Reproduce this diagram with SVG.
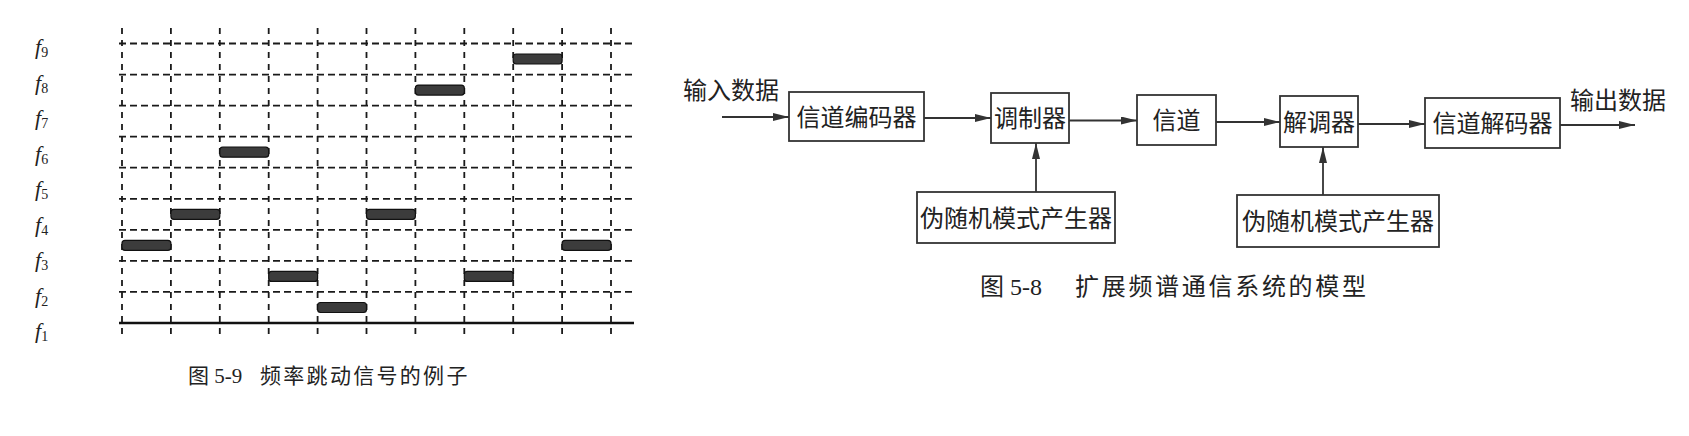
<svg xmlns="http://www.w3.org/2000/svg" width="1689" height="436" viewBox="0 0 1689 436">
<defs>
<style>
.bg{fill:#ffffff}
.hg{stroke:#1a1a1a;stroke-width:1.8;stroke-dasharray:7 4;fill:none}
.vg{stroke:#1a1a1a;stroke-width:1.8;stroke-dasharray:6 6;fill:none}
.base{stroke:#111;stroke-width:2.6;fill:none}
.bar{fill:#3c3c3c;stroke:#111;stroke-width:1.2}
.fl{font-family:"Liberation Serif","DejaVu Serif",serif;font-style:italic;font-size:22px;fill:#222}
.fs{font-size:14px;font-style:normal}
.cap{font-family:"Liberation Serif","Noto Sans CJK SC",serif;fill:#222}
.box{fill:#fff;stroke:#333;stroke-width:1.8}
.lbl{font-family:"Noto Sans CJK SC","Noto Sans CJK JP",sans-serif;font-size:24px;fill:#222;text-anchor:middle}
.txt{font-family:"Noto Sans CJK SC","Noto Sans CJK JP",sans-serif;font-size:24px;fill:#222}
.ln{stroke:#333;stroke-width:1.8;fill:none;marker-end:url(#ah)}
</style>
<marker id="ah" viewBox="0 0 16 8" refX="16" refY="4" markerWidth="16" markerHeight="8" markerUnits="userSpaceOnUse" orient="auto">
<path d="M0,0 L16,4 L0,8 Z" fill="#333"/>
</marker>
</defs>
<rect class="bg" x="0" y="0" width="1689" height="436"/>

<g id="hopping-chart">
<g id="grid-h">
<line class="hg" x1="119" y1="43.5" x2="634" y2="43.5"/>
<line class="hg" x1="119" y1="74.6" x2="634" y2="74.6"/>
<line class="hg" x1="119" y1="105.6" x2="634" y2="105.6"/>
<line class="hg" x1="119" y1="136.7" x2="634" y2="136.7"/>
<line class="hg" x1="119" y1="167.7" x2="634" y2="167.7"/>
<line class="hg" x1="119" y1="198.8" x2="634" y2="198.8"/>
<line class="hg" x1="119" y1="229.8" x2="634" y2="229.8"/>
<line class="hg" x1="119" y1="260.9" x2="634" y2="260.9"/>
<line class="hg" x1="119" y1="291.9" x2="634" y2="291.9"/>
<line class="base" x1="119" y1="323" x2="634" y2="323"/>
</g>
<g id="grid-v">
<line class="vg" x1="122" y1="28" x2="122" y2="337"/>
<line class="vg" x1="170.9" y1="28" x2="170.9" y2="337"/>
<line class="vg" x1="219.8" y1="28" x2="219.8" y2="337"/>
<line class="vg" x1="268.7" y1="28" x2="268.7" y2="337"/>
<line class="vg" x1="317.6" y1="28" x2="317.6" y2="337"/>
<line class="vg" x1="366.5" y1="28" x2="366.5" y2="337"/>
<line class="vg" x1="415.4" y1="28" x2="415.4" y2="337"/>
<line class="vg" x1="464.3" y1="28" x2="464.3" y2="337"/>
<line class="vg" x1="513.2" y1="28" x2="513.2" y2="337"/>
<line class="vg" x1="562.1" y1="28" x2="562.1" y2="337"/>
<line class="vg" x1="611" y1="28" x2="611" y2="337"/>
</g>
<g id="bars">
<rect class="bar" x="122" y="240.3" width="48.9" height="10" rx="3"/>
<rect class="bar" x="170.9" y="209.3" width="48.9" height="10" rx="3"/>
<rect class="bar" x="219.8" y="147.2" width="48.9" height="10" rx="3"/>
<rect class="bar" x="268.7" y="271.4" width="48.9" height="10" rx="3"/>
<rect class="bar" x="317.6" y="302.5" width="48.9" height="10" rx="3"/>
<rect class="bar" x="366.5" y="209.3" width="48.9" height="10" rx="3"/>
<rect class="bar" x="415.4" y="85.1" width="48.9" height="10" rx="3"/>
<rect class="bar" x="464.3" y="271.4" width="48.9" height="10" rx="3"/>
<rect class="bar" x="513.2" y="54" width="48.9" height="10" rx="3"/>
<rect class="bar" x="562.1" y="240.3" width="48.9" height="10" rx="3"/>
</g>
<g id="freq-labels">
<text class="fl" x="35" y="54">f<tspan class="fs" dy="3">9</tspan></text>
<text class="fl" x="35" y="89.5">f<tspan class="fs" dy="3">8</tspan></text>
<text class="fl" x="35" y="125">f<tspan class="fs" dy="3">7</tspan></text>
<text class="fl" x="35" y="160.5">f<tspan class="fs" dy="3">6</tspan></text>
<text class="fl" x="35" y="196">f<tspan class="fs" dy="3">5</tspan></text>
<text class="fl" x="35" y="231.5">f<tspan class="fs" dy="3">4</tspan></text>
<text class="fl" x="35" y="267">f<tspan class="fs" dy="3">3</tspan></text>
<text class="fl" x="35" y="302.5">f<tspan class="fs" dy="3">2</tspan></text>
<text class="fl" x="35" y="338">f<tspan class="fs" dy="3">1</tspan></text>
</g>
<text id="caption-59" class="cap" font-size="21" y="383"><tspan x="188">图 5-9</tspan><tspan x="260" letter-spacing="2.3">频率跳动信号的例子</tspan></text>
</g>

<g id="spread-spectrum">
<g id="connectors">
<line class="ln" x1="722" y1="117" x2="789" y2="117"/>
<line class="ln" x1="924" y1="118" x2="991" y2="118"/>
<line class="ln" x1="1069" y1="120.5" x2="1137" y2="120.5"/>
<line class="ln" x1="1216" y1="122" x2="1280" y2="122"/>
<line class="ln" x1="1358" y1="124" x2="1425" y2="124"/>
<line class="ln" x1="1560" y1="125" x2="1635" y2="125"/>
<line class="ln" x1="1036" y1="192" x2="1036" y2="143"/>
<line class="ln" x1="1323" y1="195" x2="1323" y2="147"/>
</g>
<text id="input-label" class="txt" x="683" y="99">输入数据</text>
<text id="output-label" class="txt" x="1570" y="109">输出数据</text>
<g id="channel-encoder">
<rect class="box" x="789" y="92" width="135" height="49"/>
<text class="lbl" x="856.5" y="125.5">信道编码器</text>
</g>
<g id="modulator">
<rect class="box" x="991" y="93" width="78" height="50"/>
<text class="lbl" x="1030" y="127" font-size="23">调制器</text>
</g>
<g id="channel">
<rect class="box" x="1137" y="95" width="79" height="50"/>
<text class="lbl" x="1176.5" y="129">信道</text>
</g>
<g id="demodulator">
<rect class="box" x="1280" y="96" width="78" height="51"/>
<text class="lbl" x="1319" y="130.5" font-size="23">解调器</text>
</g>
<g id="channel-decoder">
<rect class="box" x="1425" y="98" width="135" height="50"/>
<text class="lbl" x="1492.5" y="132">信道解码器</text>
</g>
<g id="pn-generator-tx">
<rect class="box" x="917" y="192" width="198" height="51"/>
<text class="lbl" x="1016" y="226.5">伪随机模式产生器</text>
</g>
<g id="pn-generator-rx">
<rect class="box" x="1237" y="195" width="202" height="52"/>
<text class="lbl" x="1338" y="230">伪随机模式产生器</text>
</g>
<text id="caption-58" class="cap" font-size="24" y="295"><tspan x="980">图 5-8</tspan><tspan x="1075" letter-spacing="2.7">扩展频谱通信系统的模型</tspan></text>
</g>
</svg>
